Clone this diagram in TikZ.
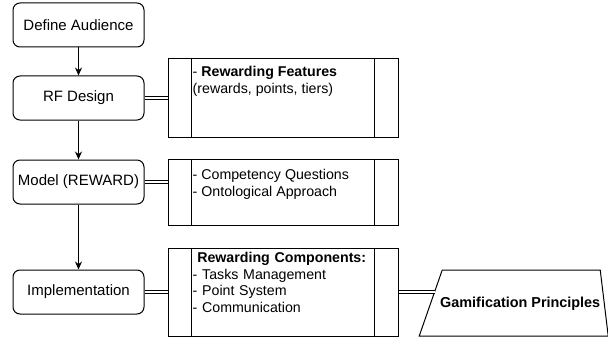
\documentclass[tikz,border=0pt]{standalone}
\usepackage{fontspec}
\setmainfont{Liberation Sans}
\usetikzlibrary{positioning, arrows.meta}
\tikzstyle{stage} = [rectangle, rounded corners=7pt, minimum width=131pt, minimum height=44pt, text centered, draw=black, line width=1pt, font=\fontsize{15}{17}\selectfont]
\tikzstyle{procbox} = [rectangle, minimum width=230pt, draw=black, line width=1pt, path picture={\draw[line width=1pt] ([xshift=23pt]path picture bounding box.north west) -- ([xshift=23pt]path picture bounding box.south west) ([xshift=-24pt]path picture bounding box.north east) -- ([xshift=-24pt]path picture bounding box.south east);}]
\tikzstyle{boxtext} = [anchor=north west, align=left, inner sep=0pt, font=\fontsize{14.2}{16.8}\selectfont]
\tikzstyle{principle} = [inner sep=0pt, font=\fontsize{14.4}{17}\selectfont\bfseries]
\tikzstyle{outline} = [draw=black, line width=1pt, line join=miter]
\tikzstyle{arrow} = [line width=1pt, -{Stealth[length=8pt, width=7pt]}]
\tikzstyle{link} = [double, double distance=2.2pt, line width=0.8pt]

\begin{document}
\begin{tikzpicture}[node distance=28pt]
    \useasboundingbox (0,0) rectangle (608pt,-337pt);

        % Nodes
        \node (audience) [stage] at (78.5pt,-25pt) {Define Audience};
        \node (rfdesign) [stage, below=28pt of audience] {RF Design};
        \node (model) [stage, below=39pt of rfdesign] {Model (REWARD)};
        \node (impl) [stage, below=65pt of model] {Implementation};
        \node (features) [procbox, minimum height=78pt, right=23pt of rfdesign] {};
        \node (questions) [procbox, minimum height=66pt, right=23pt of model, yshift=-10pt] {};
        \node (components) [procbox, minimum height=88pt, right=23pt of impl] {};
        \node (principles) [principle, right=41.5pt of components, yshift=-12pt] {Gamification Principles};
        \draw [outline] ([shift={(-101pt,-32pt)}]principles.center) -- ([shift={(88pt,-32pt)}]principles.center) -- ([shift={(80pt,34pt)}]principles.center) -- ([shift={(-78pt,34pt)}]principles.center) -- cycle;
        \coordinate (gpedge) at ([xshift=-5.2pt]principles.west |- components.east);

        % Box texts
        \node (featurestext) [boxtext] at ([xshift=25pt, yshift=-8pt]features.north west) {- \textbf{Rewarding Features}\\(rewards, points, tiers)};
        \node (questionstext) [boxtext] at ([xshift=25pt, yshift=-11pt]questions.north west) {- Competency Questions\\- Ontological Approach};
        \node (componentstext) [boxtext, text width=178pt, font=\fontsize{14.2}{16.4}\selectfont] at ([xshift=25pt, yshift=-5pt]components.north west) {\makebox[\linewidth][c]{\bfseries Rewarding Components:}\\- Tasks Management\\- Point System\\- Communication};

        % Arrows
        \draw [arrow] (audience) -- (rfdesign);
        \draw [arrow] (rfdesign) -- (model);
        \draw [arrow] (model) -- (impl);
        \draw [link] (rfdesign.east) -- (features.west);
        \draw [link] (model.east) -- (model.east -| questions.west);
        \draw [link] (impl.east) -- (components.west);
        \draw [link] (components.east) -- (gpedge);

    \end{tikzpicture}
\end{document}
